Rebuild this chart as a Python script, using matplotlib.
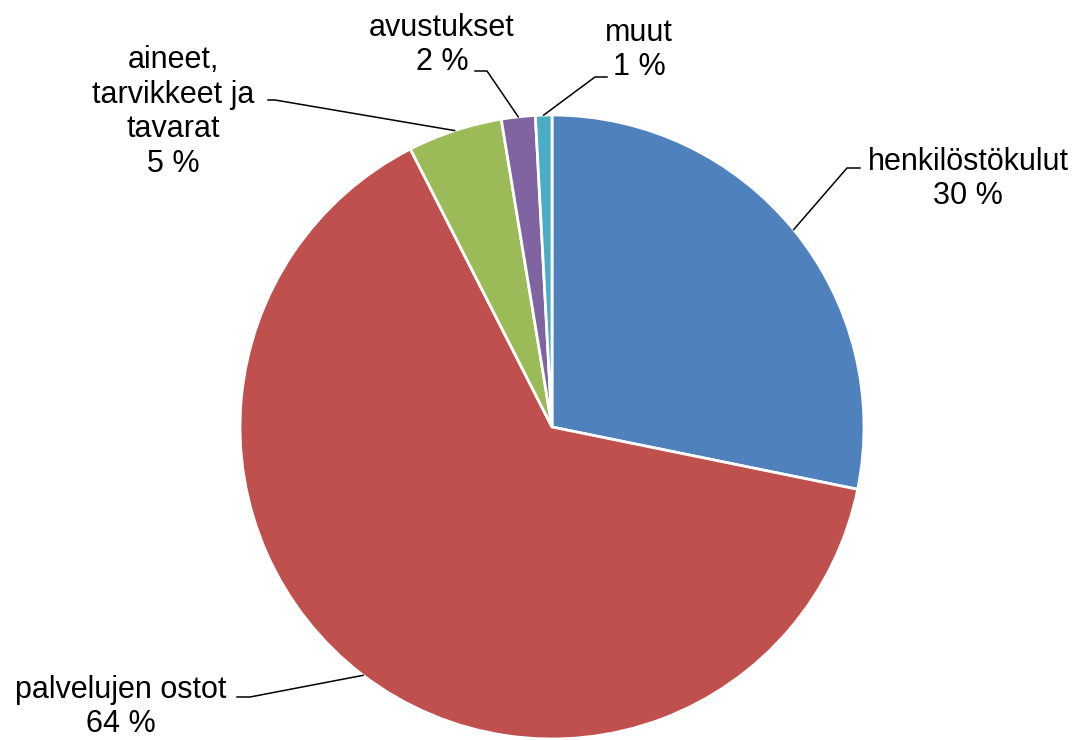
import numpy as np
import matplotlib
matplotlib.use('Agg')
import matplotlib.pyplot as plt

# data (clockwise from 12 o'clock)
categories = ["henkilöstökulut", "palvelujen ostot", "aineet,\ntarvikkeet ja\ntavarat", "avustukset", "muut"]
shares = [28.2, 64.3, 4.9, 1.75, 0.85]
pct_labels = ["30 %", "64 %", "5 %", "2 %", "1 %"]
colors = ["#4F81BD", "#C0504D", "#9BBB59", "#8064A2", "#4BACC6"]

W, H = 1085, 740
plt.rcParams['font.family'] = ['Liberation Sans', 'DejaVu Sans']

fig = plt.figure(figsize=(W / 100, H / 100), dpi=100)
ax = fig.add_axes([0, 0, 1, 1])

cx, cy, r = 552, H - 427, 312
wedges, _ = ax.pie(shares, colors=colors, startangle=90, counterclock=False,
                   center=(cx, cy), radius=r, frame=True,
                   wedgeprops=dict(edgecolor='white', linewidth=2))
ax.set_xlim(0, W)
ax.set_ylim(0, H)
ax.axis('off')

# label layout in image pixels: text centre, text-side end of leader, elbow
text_pos = [(968, 179), (121, 707), (173, 112), (442, 45), (639, 50)]
leader_start = [(860, 168), (237, 697), (268, 100), (475, 71), (607, 77)]
leader_elbow = [(847, 168), (250, 697), (275, 100), (487, 71), (595, 77)]

for i, w in enumerate(wedges):
    mid = np.deg2rad((w.theta1 + w.theta2) / 2)
    ex, ey = cx + r * np.cos(mid), cy + r * np.sin(mid)
    sx, sy = leader_start[i]
    bx, by = leader_elbow[i]
    ax.plot([sx, bx, ex], [H - sy, H - by, ey], color='black', lw=1.1,
            solid_joinstyle='miter')
    tx, ty = text_pos[i]
    ax.text(tx, H - ty, categories[i] + "\n" + pct_labels[i], ha='center', va='center',
            fontsize=22, linespacing=1.2, color='black')

fig.savefig('out.png', dpi=100)
